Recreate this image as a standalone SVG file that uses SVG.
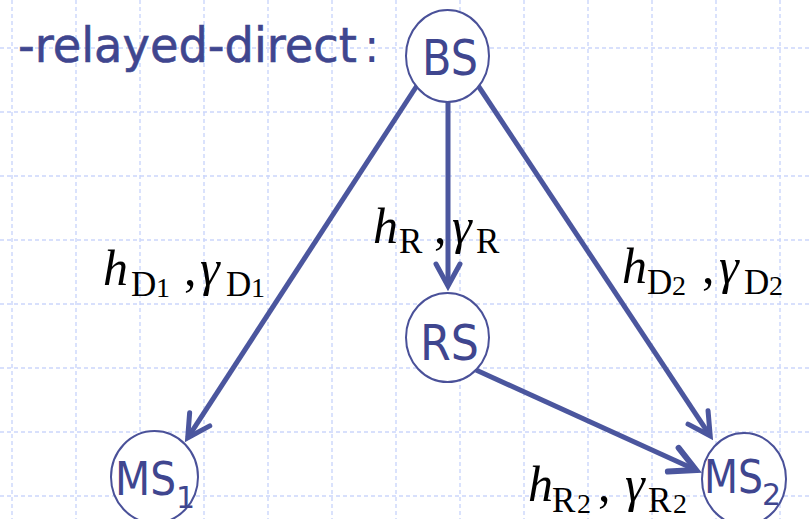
<svg xmlns="http://www.w3.org/2000/svg" width="811" height="519" viewBox="0 0 811 519">
<style>
.grid line{stroke:#cbd6fb;stroke-width:1.4;stroke-dasharray:4 3}
.node ellipse{fill:#fff;stroke:#4a5199;stroke-width:2}
.lbl{font-family:"DejaVu Sans",Verdana,sans-serif;fill:#3f468f}
.edge{stroke:#4b569e;stroke-width:5;fill:none}
.m{font-family:"Liberation Serif","Times New Roman",serif;fill:#000;font-size:50px}
.it{font-style:italic}
.sub{font-size:35px}
.ss{font-size:28px}
</style>
<defs>
<marker id="ah" viewBox="-30 -16 38 32" markerWidth="38" markerHeight="32" refX="0" refY="0" orient="auto" markerUnits="userSpaceOnUse">
<path d="M-22,-12 L0,0 L-22,12" fill="none" stroke="#4b569e" stroke-width="5" stroke-linecap="round" stroke-linejoin="miter" stroke-miterlimit="10"/>
</marker>
<marker id="ah2" viewBox="-34 -18 42 36" markerWidth="42" markerHeight="36" refX="0" refY="0" orient="auto" markerUnits="userSpaceOnUse">
<path d="M-25,-13 L0,0 L-25,13" fill="none" stroke="#4b569e" stroke-width="6" stroke-linecap="round" stroke-linejoin="miter" stroke-miterlimit="10"/>
</marker>
</defs>
<rect width="811" height="519" fill="#fff"/>
<g class="grid">
<line x1="12" y1="0" x2="12" y2="519"/><line x1="76" y1="0" x2="76" y2="519"/><line x1="140" y1="0" x2="140" y2="519"/><line x1="204" y1="0" x2="204" y2="519"/><line x1="268" y1="0" x2="268" y2="519"/><line x1="332" y1="0" x2="332" y2="519"/><line x1="396" y1="0" x2="396" y2="519"/><line x1="460" y1="0" x2="460" y2="519"/><line x1="524" y1="0" x2="524" y2="519"/><line x1="588" y1="0" x2="588" y2="519"/><line x1="652" y1="0" x2="652" y2="519"/><line x1="716" y1="0" x2="716" y2="519"/><line x1="780" y1="0" x2="780" y2="519"/>
<line x1="0" y1="48" x2="811" y2="48"/><line x1="0" y1="112" x2="811" y2="112"/><line x1="0" y1="176" x2="811" y2="176"/><line x1="0" y1="240" x2="811" y2="240"/><line x1="0" y1="304" x2="811" y2="304"/><line x1="0" y1="368" x2="811" y2="368"/><line x1="0" y1="432" x2="811" y2="432"/><line x1="0" y1="496" x2="811" y2="496"/>
</g>
<text class="lbl" x="18" y="62" font-size="48" stroke="#3f468f" stroke-width="0.6" textLength="339" lengthAdjust="spacingAndGlyphs">-relayed-direct</text>
<text class="lbl" x="364" y="62" font-size="46">:</text>
<g id="connectors">
<line class="edge" x1="418" y1="84" x2="187.7" y2="437.8" marker-end="url(#ah)"/>
<line class="edge" x1="448" y1="100" x2="448" y2="286" marker-end="url(#ah)"/>
<line class="edge" x1="477" y1="84" x2="710.2" y2="435.8" marker-end="url(#ah)"/>
<line class="edge" x1="476" y1="370" x2="696" y2="470" stroke-width="6.5" marker-end="url(#ah2)"/>
</g>
<g id="BS" class="node">
<ellipse cx="447.5" cy="56" rx="41.5" ry="46"/>
<text class="lbl" x="422" y="75" font-size="50" textLength="56" lengthAdjust="spacingAndGlyphs">BS</text>
</g>
<g id="RS" class="node">
<ellipse cx="447.5" cy="337.5" rx="41.5" ry="44.5"/>
<text class="lbl" x="420" y="360" font-size="50" textLength="59" lengthAdjust="spacingAndGlyphs">RS</text>
</g>
<g id="MS1" class="node">
<ellipse cx="154.5" cy="477" rx="43.5" ry="46"/>
<text class="lbl" x="115" y="495" font-size="46" textLength="61" lengthAdjust="spacingAndGlyphs">MS</text>
<text class="lbl" x="176" y="508" font-size="30">1</text>
</g>
<g id="MS2" class="node">
<ellipse cx="744" cy="479" rx="42" ry="46"/>
<text class="lbl" x="704" y="493" font-size="46" textLength="59" lengthAdjust="spacingAndGlyphs">MS</text>
<text class="lbl" x="762" y="505" font-size="30">2</text>
</g>
<g id="labels">
<text class="m" y="243"><tspan x="373" class="it">h</tspan><tspan x="399" y="253" class="sub">R</tspan><tspan x="434" y="243">,</tspan><tspan x="452" class="it">γ</tspan><tspan x="476" y="253" class="sub">R</tspan></text>
<text class="m" y="285"><tspan x="103" class="it">h</tspan><tspan x="131" y="296" class="sub">D</tspan><tspan x="156" y="297" class="ss">1</tspan><tspan x="184" y="285">,</tspan><tspan x="200" class="it">γ</tspan><tspan x="226" y="296" class="sub">D</tspan><tspan x="251" y="297" class="ss">1</tspan></text>
<text class="m" y="283"><tspan x="622" class="it">h</tspan><tspan x="647" y="294" class="sub">D</tspan><tspan x="672" y="295" class="ss">2</tspan><tspan x="702" y="283">,</tspan><tspan x="719" class="it">γ</tspan><tspan x="744" y="294" class="sub">D</tspan><tspan x="769" y="295" class="ss">2</tspan></text>
<text class="m" y="501"><tspan x="528" class="it">h</tspan><tspan x="552" y="512" class="sub">R</tspan><tspan x="577" y="513" class="ss">2</tspan><tspan x="598" y="501">,</tspan><tspan x="625" class="it">γ</tspan><tspan x="648" y="512" class="sub">R</tspan><tspan x="673" y="513" class="ss">2</tspan></text>
</g>
</svg>
